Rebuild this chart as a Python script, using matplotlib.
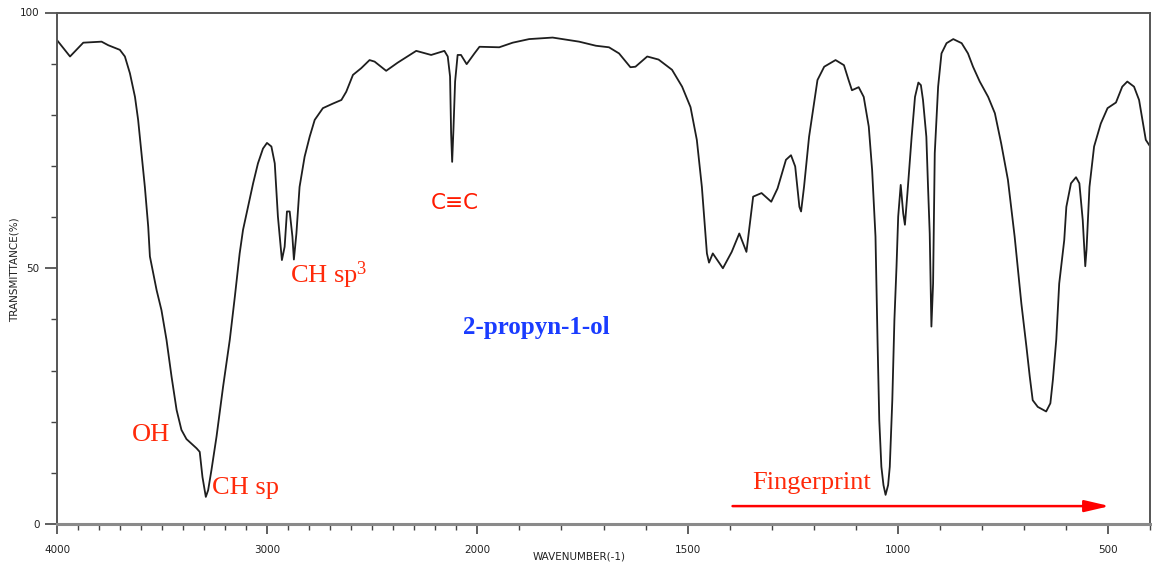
import numpy as np
import matplotlib
matplotlib.use("Agg")
import matplotlib.pyplot as plt
from matplotlib.ticker import FixedLocator, FixedFormatter

plt.rcParams["mathtext.fontset"] = "custom"
plt.rcParams["mathtext.rm"] = "Liberation Serif"
plt.rcParams["mathtext.it"] = "Liberation Serif:italic"
plt.rcParams["mathtext.bf"] = "Liberation Serif:bold"

# ---- data ----
wavenumber = [4000, 3938, 3875, 3788, 3756, 3701, 3677, 3653, 3629, 3614, 3598, 3582,
              3566, 3558, 3526, 3503, 3479, 3455, 3431, 3408, 3384, 3336, 3321, 3308,
              3292, 3281, 3265, 3241, 3210, 3178, 3154, 3131, 3115, 3091, 3067, 3044,
              3020, 3001, 2980, 2964, 2949, 2930, 2917, 2906, 2893, 2880, 2873, 2861,
              2846, 2822, 2798, 2774, 2735, 2687, 2647, 2624, 2592, 2553, 2513, 2489,
              2434, 2379, 2291, 2220, 2157, 2141, 2130, 2125, 2120, 2114, 2106, 2094,
              2078, 2051, 2014, 1995, 1948, 1916, 1877, 1821, 1758, 1718, 1687, 1663,
              1636, 1624, 1596, 1569, 1537, 1513, 1493, 1478, 1466, 1454, 1449, 1440,
              1416, 1395, 1377, 1360, 1344, 1324, 1301, 1286, 1266, 1254, 1244, 1234,
              1230, 1223, 1211, 1191, 1175, 1148, 1128, 1117, 1109, 1093, 1081, 1069,
              1061, 1053, 1048, 1044, 1039, 1034, 1029, 1023, 1019, 1013, 1008, 1003,
              999, 993, 987, 983, 977, 967, 959, 951, 945, 940, 932, 928, 924,
              920, 916, 912, 904, 896, 884, 868, 848, 833, 821, 805, 785, 769, 754,
              738, 722, 706, 694, 686, 679, 667, 647, 637, 631, 623, 616, 604, 599,
              588, 576, 568, 560, 556, 554, 551, 544, 533, 517, 501, 481, 466, 454,
              438, 426, 418, 410, 402]
transmittance = [94.6, 91.4, 94.1, 94.3, 93.6, 92.7, 91.4, 88.1, 83.5, 79.0, 72.5, 65.9,
                 58.1, 52.3, 45.7, 41.8, 36.0, 28.8, 22.3, 18.4, 16.6, 14.8, 14.1, 9.2,
                 5.3, 6.6, 10.6, 17.1, 26.8, 36.0, 44.4, 52.9, 57.5, 62.0, 66.6, 70.5,
                 73.4, 74.5, 73.8, 70.5, 60.1, 51.6, 54.2, 61.1, 61.1, 56.2, 51.7, 56.8,
                 65.9, 71.8, 75.7, 79.0, 81.3, 82.2, 82.9, 84.5, 87.8, 89.1, 90.7, 90.4,
                 88.6, 90.2, 92.5, 91.7, 92.5, 91.4, 87.5, 76.4, 70.8, 77.0, 86.5, 91.7,
                 91.7, 89.9, 92.0, 93.3, 93.2, 94.1, 94.8, 95.1, 94.3, 93.5, 93.2, 92.0,
                 89.3, 89.4, 91.4, 90.8, 88.8, 85.5, 81.5, 75.1, 65.9, 52.9, 51.1, 52.9,
                 50.0, 53.2, 56.8, 53.2, 64.0, 64.7, 63.0, 65.6, 71.2, 72.1, 69.9, 62.0,
                 61.1, 65.9, 75.7, 86.8, 89.4, 90.7, 89.7, 86.8, 84.8, 85.4, 83.5, 77.7,
                 69.2, 56.2, 35.3, 20.3, 11.2, 7.6, 5.7, 7.6, 11.2, 24.2, 39.9, 50.3,
                 60.1, 66.3, 60.7, 58.5, 64.7, 75.7, 83.5, 86.3, 85.8, 82.9, 75.7, 65.9, 56.8,
                 38.6, 47.0, 72.5, 85.5, 92.0, 94.0, 94.8, 94.0, 92.0, 89.4, 86.5, 83.5, 80.3, 74.4,
                 67.3, 56.2, 43.1, 34.7, 28.8, 24.2, 22.9, 22.0, 23.6, 28.2, 36.0, 47.0, 55.5, 62.0,
                 66.6, 67.8, 66.6, 59.4, 53.6, 50.4, 53.6, 65.9, 73.8, 78.3, 81.3, 82.4, 85.5, 86.5,
                 85.5, 82.9, 79.0, 75.1, 74.1]

x_major = [4000, 3000, 2000, 1500, 1000, 500]
x_major_labels = ["4000", "3000", "2000", "1500", "1000", "500"]
y_major = [0, 50, 100]
y_major_labels = ["0", "50", "100"]

# ---- piecewise wavenumber scale (2000-400 is expanded x2) ----
def fwd(w):
    w = np.asarray(w, dtype=float)
    return np.where(w >= 2000, w, 2 * w - 2000)

def inv(t):
    t = np.asarray(t, dtype=float)
    return np.where(t >= 2000, t, (t + 2000) / 2)

fig = plt.figure(figsize=(11.52, 5.68), dpi=100)
ax = fig.add_axes([57 / 1152, 1 - 524 / 568, (1150 - 57) / 1152, (524 - 12.5) / 568])
ax.set_xscale("function", functions=(fwd, inv))

ax.plot(wavenumber, transmittance, color="#1e1e1e", lw=1.3)

ax.set_xlim(4000, 400)
ax.set_ylim(0, 100)

ax.xaxis.set_major_locator(FixedLocator(x_major))
ax.xaxis.set_major_formatter(FixedFormatter(x_major_labels))
ax.xaxis.set_minor_locator(FixedLocator([w for w in range(400, 4001, 100) if w not in x_major]))
ax.yaxis.set_major_locator(FixedLocator(y_major))
ax.yaxis.set_major_formatter(FixedFormatter(y_major_labels))
ax.yaxis.set_minor_locator(FixedLocator([v for v in range(0, 101, 10) if v not in y_major]))

for s in ax.spines.values():
    s.set_color("#555555")
    s.set_linewidth(1.4)
ax.spines["bottom"].set_color("#8a8a8a")
ax.spines["bottom"].set_linewidth(2.2)

ax.tick_params(axis="both", which="major", direction="out", length=9, width=1.2,
               color="#444444", labelsize=7.5, labelcolor="#222222")
ax.tick_params(axis="both", which="minor", direction="out", length=4, width=1.0, color="#444444")
ax.tick_params(axis="x", which="major", length=7, pad=8)
ax.tick_params(axis="x", which="minor", length=4)

ax.set_xlabel("WAVENUMBER(-1)", fontsize=7.5, color="#222222")
ax.xaxis.set_label_coords(0.478, -0.054)
ax.set_ylabel("TRANSMITTANCE(%)", fontsize=7.5, color="#222222")
ax.yaxis.set_label_coords(-0.034, 0.497)

# ---- annotations ----
red_serif = "#ff2a0a"
ax.text(3644, 16.2, "OH", fontsize=19, family="Liberation Serif", color=red_serif, va="baseline")
ax.text(3264, 5.9, "CH sp", fontsize=19, family="Liberation Serif", color=red_serif, va="baseline")
ax.text(2893, 47.2, r"CH sp$^{\mathrm{3}}$", fontsize=19, family="Liberation Serif",
        color=red_serif, va="baseline")
ax.text(2109, 62.8, "C\u2261C", fontsize=15.5, family="DejaVu Sans", color="#ff1a00",
        ha="center", va="center")
ax.text(1860, 38.4, "2-propyn-1-ol", fontsize=18, family="Liberation Serif", weight="bold",
        color="#1a3cff", ha="center", va="center")
ax.text(1346, 6.8, "Fingerprint", fontsize=19, family="Liberation Serif", color=red_serif, va="baseline")
ax.annotate("", xy=(496, 3.5), xytext=(1393, 3.5),
            arrowprops=dict(arrowstyle="-|>,head_length=1.5,head_width=0.35",
                            color="#ff0000", lw=1.8, shrinkA=0, shrinkB=0))

fig.savefig("out.png", dpi=100)
